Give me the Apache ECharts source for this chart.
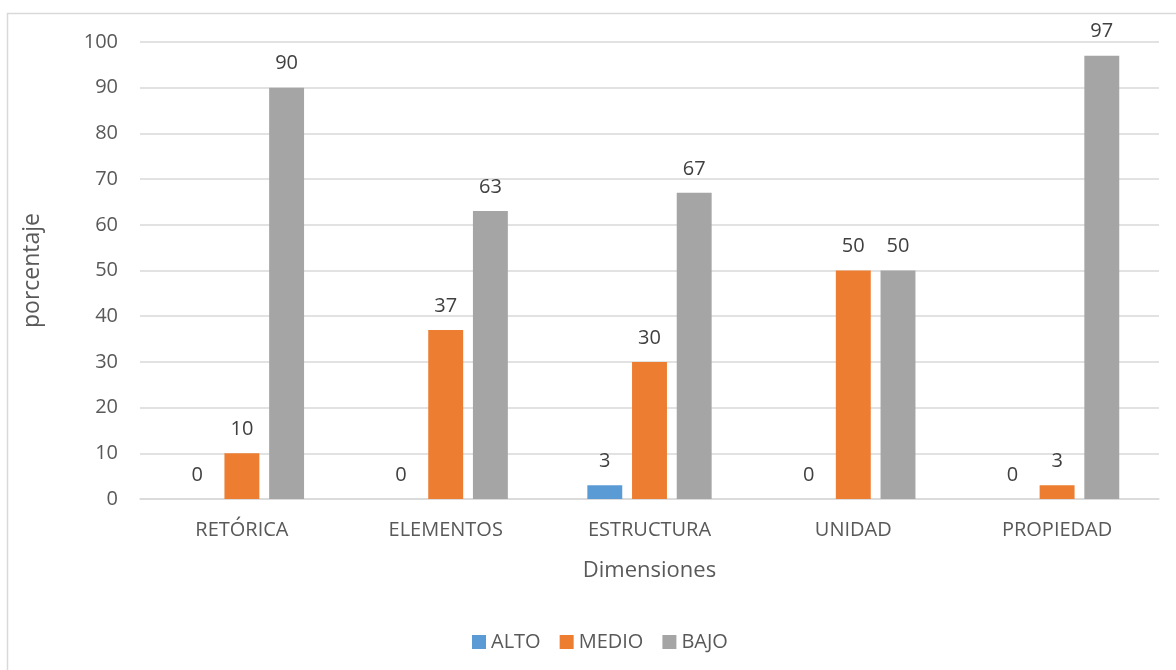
<!DOCTYPE html>
<html>
<head>
<meta charset="utf-8">
<script src="https://cdn.jsdelivr.net/npm/echarts@6/dist/echarts.min.js"></script>
<style>
html,body{margin:0;padding:0;background:#fff;}
#c{width:1176px;height:670px;}
</style>
</head>
<body>
<div id="c"></div>
<script>
const categories = ['RETÓRICA', 'ELEMENTOS', 'ESTRUCTURA', 'UNIDAD', 'PROPIEDAD'];
const alto = [0, 0, 3, 0, 0];
const medio = [10, 37, 30, 50, 3];
const bajo = [90, 63, 67, 50, 97];
const yTicks = [0, 10, 20, 30, 40, 50, 60, 70, 80, 90, 100];

const FONT = '"Open Sans", "Noto Sans", sans-serif';
const chart = echarts.init(document.getElementById('c'));
const label = {show: true, position: 'top', distance: 14, color: '#404040', fontSize: 20, fontFamily: FONT};
chart.setOption({
  animation: false,
  backgroundColor: '#fff',
  textStyle: {fontFamily: FONT},
  graphic: [{
    type: 'rect', shape: {x: 7.5, y: 13.5, width: 1300, height: 800},
    style: {fill: 'none', stroke: '#d9d9d9', lineWidth: 1.5}, silent: true, z: -1
  }],
  grid: {left: 140, right: 17, top: 42, bottom: 171},
  legend: {
    top: 627, left: 467, icon: 'rect', itemWidth: 14, itemHeight: 14, itemGap: 19,
    textStyle: {color: '#595959', fontSize: 20, fontFamily: FONT},
    data: ['ALTO', 'MEDIO', 'BAJO']
  },
  xAxis: {
    type: 'category', data: categories,
    name: 'Dimensiones', nameLocation: 'middle', nameGap: 61,
    nameTextStyle: {color: '#595959', fontSize: 22, fontFamily: FONT},
    axisLine: {lineStyle: {color: '#d9d9d9', width: 1.5}},
    axisTick: {show: false},
    axisLabel: {color: '#595959', fontSize: 20, margin: 21, fontFamily: FONT}
  },
  yAxis: {
    type: 'value', min: yTicks[0], max: yTicks[yTicks.length - 1], interval: 10,
    name: 'porcentaje', nameLocation: 'middle', nameGap: 96, nameRotate: 90,
    nameTextStyle: {color: '#595959', fontSize: 23, fontFamily: FONT},
    axisLine: {show: false}, axisTick: {show: false},
    splitLine: {lineStyle: {color: '#d9d9d9', width: 1.5}},
    axisLabel: {color: '#595959', fontSize: 20, margin: 22, fontFamily: FONT}
  },
  series: [
    {name: 'ALTO', type: 'bar', data: alto, itemStyle: {color: '#5B9BD5'}, label: label, barGap: '28%', barCategoryGap: '39%'},
    {name: 'MEDIO', type: 'bar', data: medio, itemStyle: {color: '#ED7D31'}, label: label},
    {name: 'BAJO', type: 'bar', data: bajo, itemStyle: {color: '#A5A5A5'}, label: label}
  ]
});
</script>
</body>
</html>
